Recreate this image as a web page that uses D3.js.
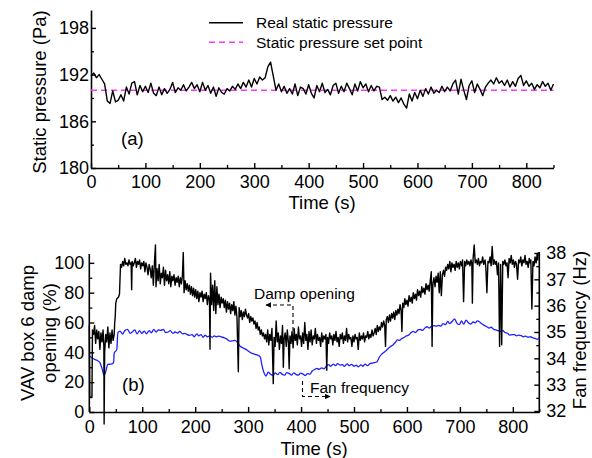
<!DOCTYPE html>
<html><head><meta charset="utf-8">
<script src="https://cdn.jsdelivr.net/npm/d3@7"></script>
<style>
body{margin:0;background:#fff;}
svg text{font-family:"Liberation Sans",Arial,sans-serif;fill:#000;}
</style></head>
<body>
<svg id="chart" width="592" height="458"></svg>
<script>
// ---------- DATA ----------
const pressureTime = [0,5,10,15,20,25,30,35,40,45,50,55,60,65,70,75,80,85,90,95,100,105,110,115,120,125,130,135,140,145,150,155,160,165,170,175,180,185,190,195,200,205,210,215,220,225,230,235,240,245,250,255,260,265,270,275,280,285,290,295,300,305,310,315,320,325,330,335,340,345,350,355,360,365,370,375,380,385,390,395,400,405,410,415,420,425,430,435,440,445,450,455,460,465,470,475,480,485,490,495,500,505,510,515,520,525,530,535,540,545,550,555,560,565,570,575,580,585,590,595,600,605,610,615,620,625,630,635,640,645,650,655,660,665,670,675,680,685,690,695,700,705,710,715,720,725,730,735,740,745,750,755,760,765,770,775,780,785,790,795,800,805,810,815,820,825,830,835,840,845,850];
const pressureValue = [191.8,192.2,191.6,192.0,191.4,190.8,188.6,188.3,189.9,188.5,188.7,189.4,188.6,190.4,189.5,190.9,191.1,189.4,190.6,189.8,190.5,189.7,190.9,189.6,189.3,190.4,189.4,190.2,189.6,190.1,191.0,189.7,190.3,190.0,190.7,189.9,190.4,191.0,190.2,190.7,189.8,191.0,190.0,190.6,189.6,190.4,189.2,190.3,189.7,189.5,190.2,189.9,190.5,190.1,190.8,190.2,191.0,190.4,191.3,190.4,191.5,190.8,191.7,191.3,191.6,193.0,193.6,191.8,190.0,190.8,189.8,190.5,189.6,190.2,189.5,190.8,189.3,190.4,190.2,189.5,190.7,189.6,189.0,190.6,189.8,190.9,189.7,190.1,189.4,190.6,190.9,189.6,190.5,189.8,190.9,190.2,189.4,190.8,189.9,191.1,190.3,190.8,189.8,190.6,189.9,190.5,190.4,188.8,189.1,188.7,189.3,188.6,189.1,188.4,189.0,188.2,187.7,189.5,188.6,189.7,188.9,190.0,189.2,190.2,189.5,190.4,189.6,190.0,189.7,190.5,189.8,190.4,189.9,190.8,191.3,189.5,191.4,190.0,188.8,190.6,191.2,189.7,190.8,190.1,189.3,190.4,190.9,191.3,190.8,191.6,190.9,191.2,190.6,191.3,190.4,191.1,190.5,191.5,191.9,190.6,191.2,190.5,190.9,190.1,190.7,190.3,191.1,190.5,190.9,190.0,190.8];
const setPointTime = [0, 850];
const setPointValue = [190, 190];

const damperTime = [0,1,5,6,8,10,12,14,16,18,20,22,24,26,27.5,28,29,31,33,35,37,39,41,43,45,47,48,49,50,52,55,57,59,61,63,65,67,69,71,73,75,77,79,80,81,83,85,87,89,91,93,95,97,99,101,103,105,107,109,111,113,115,117,119,121,123,125,126,128,130,132,134,136,138,140,142,144,146,148,150,152,154,156,158,160,162,164,166,168,170,172,174,176,177.5,179,181,183,185,187,189,191,193,195,197,199,201,203,205,207,209,211,213,215,217,219,221,223,225,227,228,229,231,233,235,237,239,241,243,245,247,249,251,253,255,257,259,261,263,265,267,269,271,273,275,277,279,281.5,283,285,287,289,291,293,295,297,299,301,303,305,307,309,311,313,315,317,319,321,323,325,327,329,331,333,335,337,339,341,343,345,347.5,349,351,353,355,357,359,361,363,365,366.5,368,370,372,374,376,377.5,379,381,383,385,387,389,391,393,395,397,399,401,403,405,407,409,411,413,415,417,419,421,423,425,427,429,431,433,435,437,439,441,443,445,447,448.5,450,452,454,456,458,460,462,464,466,468,470,472,474,476,478,480,482,484,486,488,490,492,494,496,498,500,502,504,506,508,510,512,514,516,518,520,522,524,526,528,530,532,534,536,538,540,542,544,546,548,550,552,554,556,558,559.5,561,563,565,567,569,571,573,575,577,579,581,583,585,587,589,590.5,592,594,596,598,600,602,604,606,608,610,612,614,616,618,620,622,624,626,628,630,632,634,636,638,640,642,644,646,647.5,649,651,653,655,657,659,661,663,665,667,669,671,673,675,677,679,681,683,685,687,689,691,693,695,697,699,701,703.5,705,707,709,711,713,715,717,719,721,722.5,723.6,725,727,729,731,733,735,737,739,741,743,745,747.5,749,751,753,755,757,759,761,763,765,767,769,771,773,775,777,779,781,783,785,787,789,791,793,795,797,799,801,803,805,807,809,811,813,815,817,819,821,823,825,827,829,831,832.6,834,836,838,840,842,844,846,847,848];
const damperValue = [58,10,10,55,52,58,46,55,49,54,42,53,47,55,44,-8,40,52,47,57,43,53,46,55,48,52,60,64,73,76,77,79,99,97,101,98,103,99,100,98,102,99,100,82,101,98,100,103,97,101,99,102,96,100,98,101,94,100,97,92,99,96,90,98,85,100,112,84,96,88,99,86,93,90,97,85,95,88,92,86,94,84,91,88,92,85,90,87,91,84,90,86,92,107,80,88,82,86,81,85,79,84,78,83,77,82,76,81,74,80,77,81,74,79,76,80,72,78,75,42,93,72,85,68,88,66,84,72,79,70,77,73,76,70,75,67,74,69,73,66,72,68,74,65,71,63,27,70,64,68,62,67,64,69,65,63,66,60,64,61,63,59,61,56,60,55,57,52,55,51,53,49,52,47,55,45,52,48,56,19,50,44,61,47,53,42,51,46,58,30,49,53,44,55,47,29,51,46,54,43,56,48,52,45,57,49,51,44,53,46,60,48,52,42,54,47,55,45,51,49,56,46,52,48,50,44,53,47,51,49,52,28,50,46,53,49,51,45,52,48,54,47,50,44,52,49,53,46,51,48,56,47,52,49,50,44,51,47,52,49,50,42,53,48,51,49,53,47,51,50,54,49,52,50,55,51,53,56,52,58,54,57,55,60,57,61,58,44,62,64,60,65,61,66,63,67,62,68,65,69,66,72,68,54,73,70,76,72,75,71,78,74,77,73,80,76,79,75,82,78,81,77,84,80,83,79,86,82,85,81,88,94,44,86,90,84,91,87,93,80,94,78,92,95,91,97,95,99,96,101,94,100,97,99,95,101,97,100,96,101,98,102,74,101,98,102,99,101,98,102,100,73,103,112,100,102,99,103,98,101,100,104,99,102,97,80,101,100,104,98,111,99,102,99,101,92,100,44,99,45,101,99,102,98,100,90,103,100,105,99,102,97,101,99,89,102,100,104,98,102,100,105,99,101,97,103,100,102,69,101,98,104,100,106,102,107,104,90];

const fanTime = [0,5,10,15,20,24,28,31,35,40,44,46,47,52,54,58,63,67,72,77,81,86,90,95,99,104,108,113,117,122,126,131,135,140,144,149,153,158,162,167,171,176,180,185,189,194,198,203,207,211,215,219,223,228,232,236,240,245,250,255,260,265,270,275,280,285,290,295,300,304,309,313,318,323,326,330,334,338,342,347,351,356,360,364,369,373,378,382,386,391,395,399,404,408,412,417,421,426,430,434,439,443,448,452,456,461,465,469,474,478,482,487,491,495,500,504,508,513,517,521,526,530,535,539,543,548,552,556,561,565,569,573,578,582,586,590,595,599,603,608,612,616,621,625,629,634,638,642,647,651,655,660,664,668,673,677,681,686,690,694,699,703,707,712,716,720,725,729,733,738,742,746,751,755,759,764,768,772,777,781,785,790,794,798,803,807,811,816,820,824,829,833,838,842,846,850];
const fanValue = [34.09,34.02,33.96,33.92,33.84,33.62,33.36,33.5,33.77,33.78,33.8,33.85,34.2,34.34,34.97,35.03,34.92,35.05,35.1,34.95,35.0,35.08,34.93,35.05,34.95,35.03,34.93,35.05,34.97,35.1,35.0,35.08,35.06,35.1,34.98,35.0,35.05,34.95,35.0,34.96,35.02,34.93,34.95,34.9,34.87,34.9,34.82,34.93,34.85,34.9,34.8,34.88,34.82,34.85,34.8,34.85,34.82,34.84,34.81,34.78,34.73,34.65,34.66,34.68,34.6,34.46,34.4,34.35,34.28,34.22,34.18,34.15,34.12,34.05,33.75,33.45,33.33,33.48,33.4,33.35,33.45,33.38,33.47,33.4,33.36,33.46,33.42,33.36,33.45,33.38,33.36,33.44,33.4,33.35,33.42,33.4,33.52,33.58,33.62,33.58,33.64,33.6,33.71,33.76,33.7,33.78,33.72,33.8,33.74,33.76,33.7,33.79,33.72,33.77,33.7,33.74,33.68,33.75,33.7,33.78,33.72,33.8,33.82,33.84,33.86,34.05,34.15,34.22,34.3,34.38,34.45,34.5,34.6,34.7,34.68,34.75,34.8,34.85,34.88,34.98,35.02,34.98,35.08,35.1,35.06,35.15,35.2,35.15,35.22,35.24,35.22,35.25,35.22,35.32,35.28,35.4,35.32,35.42,35.5,35.35,35.28,35.42,35.3,35.45,35.35,35.3,35.38,35.35,35.42,35.37,35.3,35.25,35.2,35.15,35.18,35.1,35.08,35.05,35.02,35.06,34.98,34.95,34.88,34.9,34.9,34.85,34.88,34.86,34.82,34.84,34.8,34.82,34.78,34.76,34.72,34.78];

const timeTicks = [0,100,200,300,400,500,600,700,800];
const timeMinor = [50,150,250,350,450,550,650,750,850];
const pressureTicks = [180,186,192,198];
const pressureMinor = [183,189,195];
const damperTicks = [0,20,40,60,80,100];
const damperMinor = [10,30,50,70,90];
const fanTicks = [32,33,34,35,36,37,38];
const fanMinor = [32.5,33.5,34.5,35.5,36.5,37.5];

const legendLabels = ["Real static pressure","Static pressure set point"];

// ---------- DRAW ----------
const svg = d3.select("#chart");
const FS = 18;

function axisStyle(g){
  g.selectAll(".domain").attr("stroke","#000").attr("stroke-width",1.6);
  g.selectAll(".tick line").attr("stroke","#000").attr("stroke-width",1.4);
  g.selectAll(".tick text").style("font-size",FS+"px");
}
function minorTicks(g, axisFn, scale, vals){
  g.append("g").call(axisFn(scale).tickValues(vals).tickSize(-3).tickFormat(""))
   .call(s=>{s.select(".domain").remove(); s.selectAll(".tick line").attr("stroke","#000").attr("stroke-width",1.3);});
}
const fmt = d3.format("d");

// ===== Panel (a) =====
const xa = d3.scaleLinear().domain([0,850]).range([91,553.5]);
const ya = d3.scaleLinear().domain([180,200.3]).range([168,10]);

const gxa = svg.append("g").attr("transform","translate(0,168)");
gxa.call(d3.axisBottom(xa).tickValues(timeTicks).tickFormat(fmt).tickSize(-5).tickPadding(7).tickSizeOuter(0));
axisStyle(gxa);
minorTicks(gxa, d3.axisBottom, xa, timeMinor);

const gya = svg.append("g").attr("transform","translate(91,0)");
gya.call(d3.axisLeft(ya).tickValues(pressureTicks).tickFormat(fmt).tickSize(-5).tickPadding(2).tickSizeOuter(0));
axisStyle(gya);
minorTicks(gya, d3.axisLeft, ya, pressureMinor);

svg.append("path")
  .attr("d", d3.line().x(i=>xa(setPointTime[i])).y(i=>ya(setPointValue[i]))(d3.range(setPointTime.length)))
  .attr("fill","none").attr("stroke","#ff33ff").attr("stroke-width",1.5).attr("stroke-dasharray","6,4");
svg.append("path")
  .attr("d", d3.line().x(i=>xa(pressureTime[i])).y(i=>ya(pressureValue[i]))(d3.range(pressureTime.length)))
  .attr("fill","none").attr("stroke","#000").attr("stroke-width",1.4).attr("stroke-linejoin","round");

svg.append("text").attr("x",322).attr("y",209).attr("text-anchor","middle").style("font-size","18.5px").text("Time (s)");
svg.append("text").attr("transform","translate(46,92) rotate(-90)").attr("text-anchor","middle").style("font-size","18.5px").text("Static pressure (Pa)");
svg.append("text").attr("x",121).attr("y",145).style("font-size","18.5px").text("(a)");

// legend
const leg = svg.append("g");
leg.append("line").attr("x1",209).attr("x2",243).attr("y1",22.7).attr("y2",22.7).attr("stroke","#000").attr("stroke-width",1.4);
leg.append("line").attr("x1",209).attr("x2",243).attr("y1",42.3).attr("y2",42.3).attr("stroke","#ff33ff").attr("stroke-width",1.5).attr("stroke-dasharray","6,4");
leg.append("text").attr("x",256).attr("y",28).style("font-size","15.5px").text(legendLabels[0]);
leg.append("text").attr("x",256).attr("y",47.5).style("font-size","15.5px").text(legendLabels[1]);

// ===== Panel (b) =====
const xb = d3.scaleLinear().domain([0,850]).range([89.3,539.3]);
const yb = d3.scaleLinear().domain([0,106.6]).range([412,253]);
const yf = d3.scaleLinear().domain([32,38]).range([411,253]);

const gxb = svg.append("g").attr("transform","translate(0,412)");
gxb.call(d3.axisBottom(xb).tickValues(timeTicks).tickFormat(fmt).tickSize(-5).tickPadding(8).tickSizeOuter(0));
axisStyle(gxb);
minorTicks(gxb, d3.axisBottom, xb, timeMinor);

const gyb = svg.append("g").attr("transform","translate(89.3,0)");
gyb.call(d3.axisLeft(yb).tickValues(damperTicks).tickFormat(fmt).tickSize(-5).tickPadding(5).tickSizeOuter(0));
axisStyle(gyb);
minorTicks(gyb, d3.axisLeft, yb, damperMinor);

const gyf = svg.append("g").attr("transform","translate(539.3,0)");
gyf.call(d3.axisRight(yf).tickValues(fanTicks).tickFormat(fmt).tickSize(-5).tickPadding(7).tickSizeOuter(0));
axisStyle(gyf);
minorTicks(gyf, d3.axisRight, yf, fanMinor);
gyf.select(".domain").attr("d","M0,412V252");
gyb.select(".domain").attr("d","M0,412V254");

svg.append("path")
  .attr("d", d3.line().x(i=>xb(fanTime[i])).y(i=>yf(fanValue[i])).curve(d3.curveMonotoneX)(d3.range(fanTime.length)))
  .attr("fill","none").attr("stroke","#1f1fff").attr("stroke-width",1.3);
svg.append("path")
  .attr("d", d3.line().x(i=>xb(damperTime[i])).y(i=>yb(damperValue[i]))(d3.range(damperTime.length)))
  .attr("fill","none").attr("stroke","#000").attr("stroke-width",1.4).attr("stroke-linejoin","round");

svg.append("text").attr("x",314).attr("y",455).attr("text-anchor","middle").style("font-size","18.5px").text("Time (s)");
svg.append("text").attr("transform","translate(34,333) rotate(-90)").attr("text-anchor","middle").style("font-size","18.5px").text("VAV box 6 damp");
svg.append("text").attr("transform","translate(56,333) rotate(-90)").attr("text-anchor","middle").style("font-size","18.5px").text("opening (%)");
svg.append("text").attr("transform","translate(586,330) rotate(-90)").attr("text-anchor","middle").style("font-size","18.5px").text("Fan frequency (Hz)");
svg.append("text").attr("x",122).attr("y",391).style("font-size","18.5px").text("(b)");

// annotations
const defs = svg.append("defs");
defs.append("marker").attr("id","arr").attr("viewBox","0 0 10 10").attr("refX",9).attr("refY",5)
  .attr("markerWidth",7).attr("markerHeight",5).attr("orient","auto")
  .append("path").attr("d","M0,0L10,5L0,10z").attr("fill","#000");
svg.append("text").attr("x",254).attr("y",298.5).style("font-size","15.5px").text("Damp opening");
svg.append("path").attr("d","M293,331V305H266").attr("fill","none").attr("stroke","#000").attr("stroke-width",1.1)
  .attr("stroke-dasharray","4,3").attr("marker-end","url(#arr)");
svg.append("text").attr("x",310).attr("y",393).style("font-size","15.5px").text("Fan frequency");
svg.append("path").attr("d","M302.5,381V396.5H330").attr("fill","none").attr("stroke","#000").attr("stroke-width",1.1)
  .attr("stroke-dasharray","4,3").attr("marker-end","url(#arr)");
</script>
</body></html>
